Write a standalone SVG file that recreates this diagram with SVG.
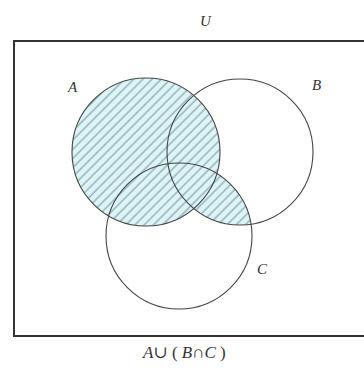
<svg xmlns="http://www.w3.org/2000/svg" width="364" height="370" viewBox="0 0 364 370">
<style>
.lbl{font-family:"Liberation Serif","DejaVu Serif",serif;font-style:italic;font-size:15px;fill:#333}
.circ{fill:none;stroke:#444;stroke-width:1.1}
</style>
<defs>
<pattern id="hatch" patternUnits="userSpaceOnUse" width="6.5" height="6.5" patternTransform="rotate(45)">
<rect width="6.5" height="6.5" fill="#dcf4f6"/>
<line x1="1" y1="0" x2="1" y2="6.5" stroke="#7f9ba6" stroke-width="1.1"/>
</pattern>
<clipPath id="clipB"><circle cx="240" cy="152" r="73"/></clipPath>
</defs>
<rect width="364" height="370" fill="#fff"/>
<g id="universe">
<rect x="14" y="41" width="352" height="295" fill="none" stroke="#333" stroke-width="2"/>
<text class="lbl" x="200" y="26">U</text>
</g>
<g id="shading">
<circle cx="146" cy="152" r="74" fill="url(#hatch)"/>
<circle cx="179" cy="236" r="73" fill="url(#hatch)" clip-path="url(#clipB)"/>
</g>
<g id="setA">
<circle class="circ" cx="146" cy="152" r="74"/>
<text class="lbl" x="68" y="92">A</text>
</g>
<g id="setB">
<circle class="circ" cx="240" cy="152" r="73"/>
<text class="lbl" x="312" y="90">B</text>
</g>
<g id="setC">
<circle class="circ" cx="179" cy="236" r="73"/>
<text class="lbl" x="257" y="274">C</text>
</g>
<g id="caption">
<text class="lbl" x="143" y="358" style="font-style:normal;font-size:17px"><tspan font-style="italic">A</tspan>∪ ( <tspan font-style="italic">B</tspan>∩<tspan font-style="italic">C</tspan> )</text>
</g>
</svg>
